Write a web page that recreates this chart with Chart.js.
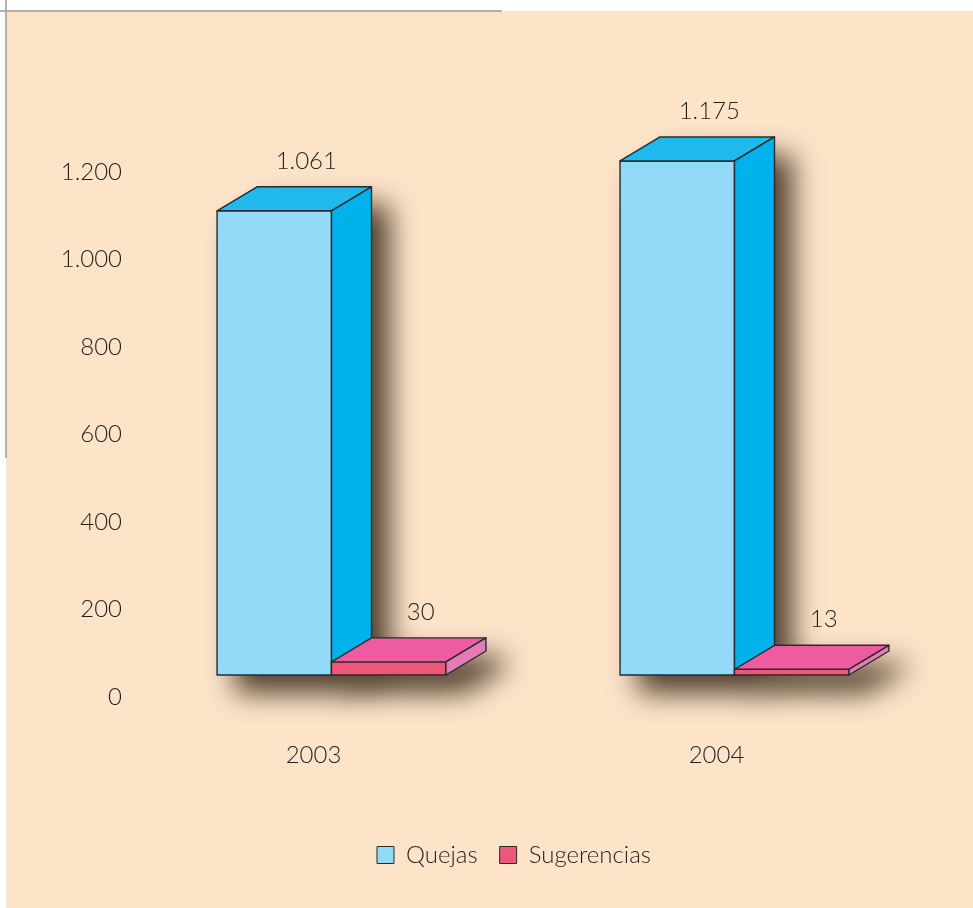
<!DOCTYPE html>
<html>
<head>
<meta charset="utf-8">
<script src="https://cdn.jsdelivr.net/npm/chart.js@4.4.0/dist/chart.umd.min.js"></script>
<style>
  body { margin: 0; background: #fff; }
  canvas { display: block; }
</style>
</head>
<body>
<canvas id="quejasChart" width="973" height="908"></canvas>
<script>
const years = ["2003", "2004"];
const quejas = [1061, 1175];
const sugerencias = [30, 13];

const peach = "#fde4c9";
const textColor = "#231f20";
const edge = "#2b2b2b";
const labelFont = { family: "Lato", size: 24, weight: 300 };
// 3d depth of the boxes
const DX = 40, DY = -24;

const faceColors = [
    { front: "#93d9f8", top: "#1fb9ee", side: "#00b2ec" },
    { front: "#ef5779", top: "#ee5ba1", side: "#e47cb8" }
];

function fmt(n) {
    return String(n).replace(/\B(?=(\d{3})+(?!\d))/g, ".");
}

function barBox(bar) {
    const p = bar.getProps(["x", "y", "base", "width"], true);
    return { l: p.x - p.width / 2, r: p.x + p.width / 2, t: p.y, b: p.base, cx: p.x };
}

function poly(ctx, pts) {
    ctx.beginPath();
    ctx.moveTo(pts[0][0], pts[0][1]);
    for (let i = 1; i < pts.length; i++) ctx.lineTo(pts[i][0], pts[i][1]);
    ctx.closePath();
}

const pagePlugin = {
    id: "page",
    beforeDraw(chart) {
        const ctx = chart.ctx;
        ctx.save();
        ctx.fillStyle = "#ffffff";
        ctx.fillRect(0, 0, chart.width, chart.height);
        ctx.fillStyle = peach;
        ctx.fillRect(6, 11, chart.width - 6, chart.height - 11);
        ctx.strokeStyle = "#9a9a9a";
        ctx.lineWidth = 1.5;
        ctx.beginPath();
        ctx.moveTo(0, 11);
        ctx.lineTo(502, 11);
        ctx.moveTo(6, 0);
        ctx.lineTo(6, 458);
        ctx.stroke();
        ctx.restore();
    }
};

const boxes3d = {
    id: "boxes3d",
    afterDatasetsDraw(chart) {
        const ctx = chart.ctx;
        const metas = chart.data.datasets.map((d, i) => chart.getDatasetMeta(i));
        ctx.save();
        // shadows first
        metas.forEach(meta => meta.data.forEach(bar => {
            const k = barBox(bar);
            ctx.save();
            ctx.shadowColor = "rgba(40,25,10,0.9)";
            ctx.shadowBlur = 28;
            ctx.shadowOffsetX = 18;
            ctx.shadowOffsetY = 18;
            ctx.fillStyle = "rgba(40,25,10,0.9)";
            poly(ctx, [[k.l, k.b], [k.l, k.t], [k.l + DX, k.t + DY], [k.r + DX, k.t + DY], [k.r + DX, k.b + DY], [k.r, k.b]]);
            ctx.fill();
            ctx.restore();
        }));
        // faces
        ctx.lineWidth = 1.4;
        ctx.strokeStyle = edge;
        ctx.lineJoin = "round";
        for (let j = 0; j < years.length; j++) {
            metas.forEach((meta, i) => {
                const k = barBox(meta.data[j]);
                const c = faceColors[i];
                ctx.fillStyle = c.front;
                ctx.fillRect(k.l, k.t, k.r - k.l, k.b - k.t);
                ctx.strokeRect(k.l, k.t, k.r - k.l, k.b - k.t);
                ctx.fillStyle = c.top;
                poly(ctx, [[k.l, k.t], [k.l + DX, k.t + DY], [k.r + DX, k.t + DY], [k.r, k.t]]);
                ctx.fill(); ctx.stroke();
                ctx.fillStyle = c.side;
                poly(ctx, [[k.r, k.t], [k.r + DX, k.t + DY], [k.r + DX, k.b + DY], [k.r, k.b]]);
                ctx.fill(); ctx.stroke();
            });
        }
        // value labels
        ctx.fillStyle = textColor;
        ctx.font = "300 24px Lato";
        ctx.textAlign = "center";
        ctx.textBaseline = "middle";
        metas.forEach((meta, i) => meta.data.forEach((bar, j) => {
            const k = barBox(bar);
            ctx.fillText(fmt(chart.data.datasets[i].data[j]), k.cx + 32, k.t - 50);
        }));
        ctx.restore();
    }
};

new Chart(document.getElementById("quejasChart"), {
    type: "bar",
    data: {
        labels: years,
        datasets: [{
            label: "Quejas",
            data: quejas,
            backgroundColor: faceColors[0].front,
            borderColor: edge,
            borderWidth: 1
        }, {
            label: "Sugerencias",
            data: sugerencias,
            backgroundColor: faceColors[1].front,
            borderColor: edge,
            borderWidth: 1
        }]
    },
    options: {
        responsive: false,
        animation: false,
        devicePixelRatio: 1,
        layout: {
            padding: { left: 92, right: 37, top: 150, bottom: 31 }
        },
        datasets: {
            bar: { barPercentage: 1, categoryPercentage: 0.568 }
        },
        scales: {
            x: {
                grid: { display: false, drawTicks: false },
                border: { display: false },
                ticks: {
                    color: textColor,
                    font: labelFont,
                    padding: 66,
                    labelOffset: -18
                },
                afterFit(scale) { scale.height = 146; }
            },
            y: {
                min: 0,
                max: 1200,
                grid: { display: false, drawTicks: false },
                border: { display: false },
                ticks: {
                    stepSize: 200,
                    color: textColor,
                    font: labelFont,
                    padding: 8,
                    labelOffset: 22,
                    callback: v => fmt(v)
                },
                afterFit(scale) {
                    scale.width = 38;
                    // let the tick labels run past the narrow axis box
                    scale._computeLabelArea = () => undefined;
                }
            }
        },
        plugins: {
            legend: {
                position: "bottom",
                labels: {
                    color: textColor,
                    font: labelFont,
                    boxWidth: 17,
                    boxHeight: 17,
                    padding: 22
                }
            },
            tooltip: { enabled: false }
        }
    },
    plugins: [pagePlugin, boxes3d]
});
</script>
</body>
</html>
